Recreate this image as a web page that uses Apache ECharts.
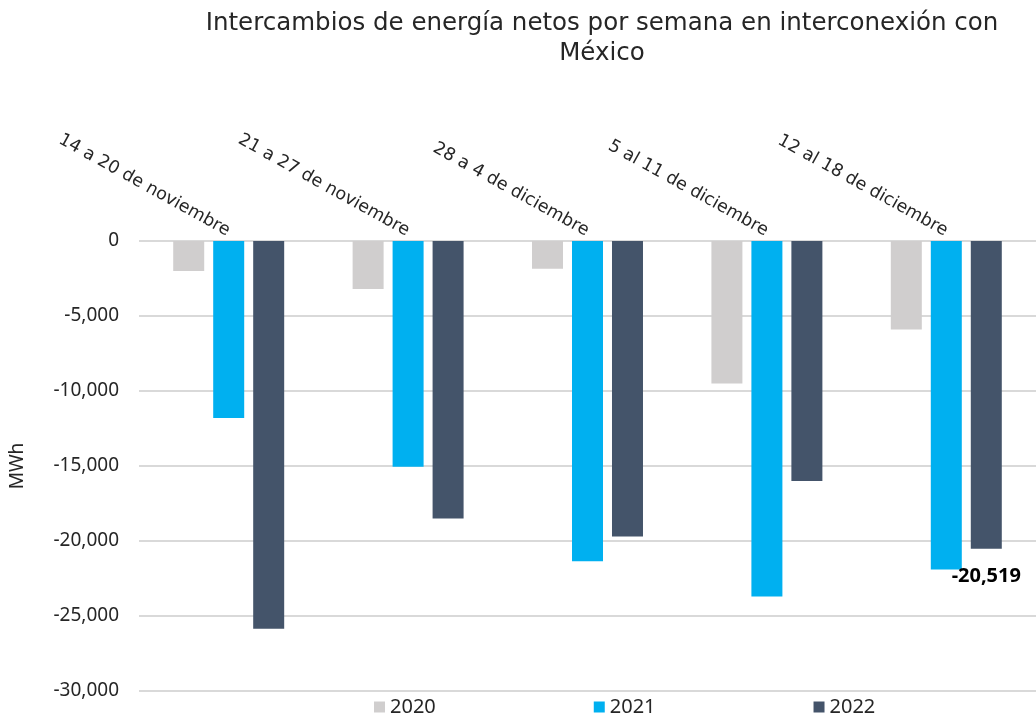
<!DOCTYPE html>
<html><head><meta charset="utf-8">
<script src="https://cdn.jsdelivr.net/npm/echarts@6/dist/echarts.min.js"></script>
<style>html,body{margin:0;padding:0;background:#fff}#c{width:1036px;height:721px}</style>
</head><body><div id="c"></div>
<script>
const categories = ['14 a 20 de noviembre','21 a 27 de noviembre','28 a 4 de diciembre','5 al 11 de diciembre','12 al 18 de diciembre'];
const s2020 = [-2000,-3200,-1850,-9500,-5900];
const s2021 = [-11800,-15050,-21350,-23700,-21900];
const s2022 = [-25850,-18500,-19700,-16000,-20519];
const yTicks = [0,-5000,-10000,-15000,-20000,-25000,-30000];
const FONT = 'Noto Sans';
const WIDE = 'DejaVu Sans';
const fmt = v => Number(v).toLocaleString('en-US');
const chart = echarts.init(document.getElementById('c'));
chart.setOption({
  animation:false,
  textStyle:{fontFamily:FONT},
  title:{text:'Intercambios de energía netos por semana en interconexión con\nMéxico',left:597,top:4,textAlign:'center',
    textStyle:{fontFamily:WIDE,fontSize:24.5,fontWeight:'normal',color:'#262626',lineHeight:30}},
  grid:{left:136,right:-4,top:241,bottom:30},
  legend:{left:369,bottom:-1,itemWidth:11,itemHeight:11,itemGap:158,icon:'rect',
    textStyle:{fontFamily:FONT,fontSize:20,color:'#262626'},data:['2020','2021','2022']},
  xAxis:{type:'category',data:categories,position:'top',
    axisLine:{show:false},axisTick:{show:false},
    axisLabel:{rotate:-29,margin:9,fontSize:17.5,color:'#262626',fontFamily:WIDE,interval:0}},
  yAxis:{type:'value',min:-30000,max:0,interval:5000,name:'MWh',nameLocation:'middle',nameGap:112,nameRotate:90,
    nameTextStyle:{fontSize:19,color:'#262626',fontFamily:FONT},
    axisLabel:{formatter:fmt,fontSize:19,color:'#262626',margin:20,fontFamily:FONT},
    splitLine:{lineStyle:{color:'#d9d9d9',width:2}},axisLine:{show:false},axisTick:{show:false}},
  series:[
    {name:'2020',type:'bar',data:s2020,itemStyle:{color:'#d0cece'},barWidth:31,barGap:'29%'},
    {name:'2021',type:'bar',data:s2021,itemStyle:{color:'#00b0f0'},barWidth:31,barGap:'29%'},
    {name:'2022',type:'bar',data:s2022,itemStyle:{color:'#44546a'},barWidth:31,barGap:'29%',
      label:{show:true,position:'bottom',distance:18,fontSize:20,fontWeight:'bold',color:'#000',fontFamily:FONT,
        formatter:p=>p.dataIndex===s2022.length-1?fmt(p.value):''}}
  ]
});
</script></body></html>
